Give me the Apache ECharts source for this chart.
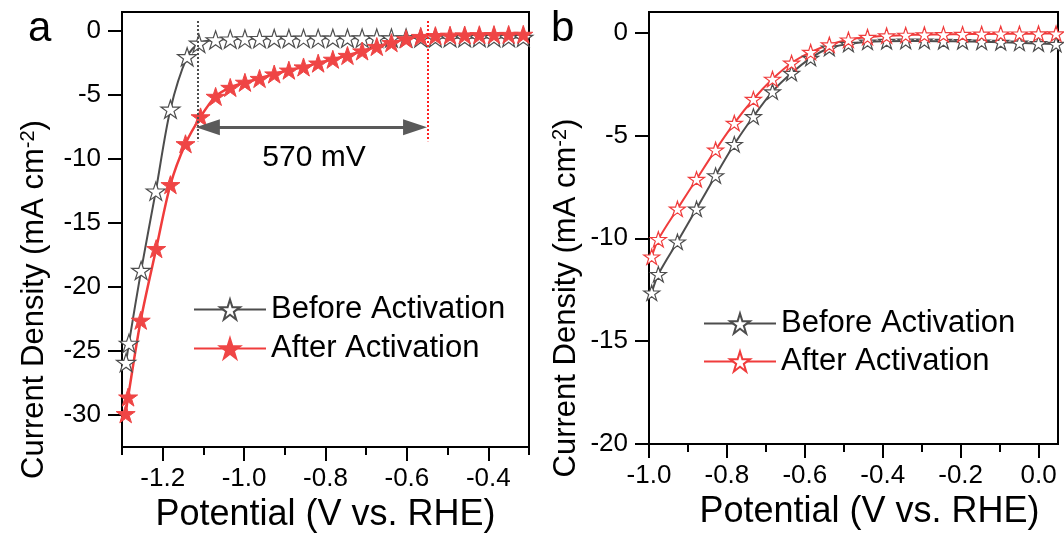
<!DOCTYPE html>
<html><head><meta charset="utf-8">
<script src="https://cdn.jsdelivr.net/npm/echarts@6/dist/echarts.min.js"></script>
<style>html,body{margin:0;padding:0;background:#fff}#c{width:1064px;height:533px}</style>
</head><body><div id="c"></div>
<script>
// ---------- Panel a data ----------
const aBeforeX = [-1.290, -1.283, -1.253, -1.217, -1.181, -1.140, -1.111, -1.070, -1.034, -0.998, -0.962, -0.926, -0.890, -0.854, -0.818, -0.782, -0.746, -0.710, -0.674, -0.638, -0.602, -0.566, -0.530, -0.494, -0.458, -0.422, -0.386, -0.350, -0.314];
const aBeforeY = [-25.9, -24.4, -18.7, -12.5, -6.1, -2.0, -0.95, -0.68, -0.62, -0.60, -0.58, -0.57, -0.57, -0.56, -0.56, -0.55, -0.55, -0.54, -0.54, -0.53, -0.53, -0.52, -0.52, -0.51, -0.51, -0.50, -0.50, -0.50, -0.49];
const aAfterX = [-1.291, -1.285, -1.254, -1.216, -1.181, -1.144, -1.107, -1.070, -1.034, -0.998, -0.962, -0.926, -0.890, -0.854, -0.818, -0.782, -0.746, -0.710, -0.674, -0.638, -0.602, -0.566, -0.530, -0.494, -0.458, -0.422, -0.386, -0.350, -0.314];
const aAfterY = [-29.9, -28.6, -22.6, -17.0, -12.0, -8.8, -6.7, -5.1, -4.4, -4.0, -3.7, -3.35, -3.05, -2.8, -2.5, -2.2, -1.9, -1.55, -1.2, -0.9, -0.6, -0.42, -0.35, -0.32, -0.30, -0.28, -0.27, -0.26, -0.25];
// annotation: potentials of the two guide lines (570 mV apart)
const guideX = [-1.113, -0.548];
const guideYRange = [0.8, -8.6];
const arrowY = -7.5;
const arrowEnds = [-1.089, -0.580];

// ---------- Panel b data ----------
const bX = [-0.993, -0.976, -0.927, -0.878, -0.829, -0.781, -0.732, -0.683, -0.634, -0.585, -0.537, -0.488, -0.439, -0.390, -0.341, -0.293, -0.244, -0.195, -0.146, -0.097, -0.049, 0.000, 0.045];
const bBeforeY = [-12.65, -11.75, -10.17, -8.57, -6.95, -5.43, -4.08, -2.87, -1.97, -1.24, -0.75, -0.56, -0.45, -0.42, -0.41, -0.41, -0.42, -0.43, -0.45, -0.47, -0.50, -0.53, -0.56];
const bAfterY = [-10.9, -10.05, -8.57, -7.13, -5.70, -4.40, -3.24, -2.26, -1.48, -0.95, -0.59, -0.35, -0.22, -0.15, -0.12, -0.10, -0.09, -0.08, -0.07, -0.06, -0.06, -0.05, -0.05];

// ---------- ticks ----------
const aXMajor = [-1.2, -1.0, -0.8, -0.6, -0.4];
const aXMinor = [-1.3, -1.1, -0.9, -0.7, -0.5, -0.3];
const aYTicks = [0, -5, -10, -15, -20, -25, -30];
const bXMajor = [-1.0, -0.8, -0.6, -0.4, -0.2, 0.0];
const bXMinor = [-0.9, -0.7, -0.5, -0.3, -0.1];
const bYTicks = [0, -5, -10, -15, -20];

const legendNames = {aBefore: 'Before Activation', aAfter: 'After Activation', bBefore: 'Before Activation', bAfter: 'After Activation'};
const xTitle = 'Potential (V vs. RHE)';
const yTitle = '{t|Current Density (mA cm}{s|-2}{t|)}';

const FONT = 'Liberation Sans';
const GRAY = '#4d4d4d';
const RED = '#f03c3c';
const STAR = 'path://M50,0 L61.23,34.55 L97.55,34.55 L68.16,55.9 L79.39,90.45 L50,69.1 L20.61,90.45 L31.84,55.9 L2.45,34.55 L38.77,34.55 Z';
const zip = (xs, ys) => xs.map((x, i) => [x, ys[i]]);

const chart = echarts.init(document.getElementById('c'), null, {renderer: 'canvas'});

function majorX(grid, min, max, major, shift) {
  return {
    type: 'value', gridIndex: grid, min: min, max: max, position: 'bottom',
    axisLine: {show: true, onZero: false, lineStyle: {color: '#000', width: 2}},
    axisTick: {show: true, customValues: major, length: 14, lineStyle: {color: '#000', width: 2}},
    axisLabel: {show: true, customValues: major, formatter: v => v.toFixed(1), fontSize: 26, fontFamily: FONT, color: '#000', margin: 19},
    splitLine: {show: false},
    name: xTitle, nameLocation: 'middle', nameGap: 41,
    nameTextStyle: {fontSize: 36, fontFamily: FONT, color: '#000', padding: [0, 0, 0, shift]}
  };
}
function minorX(grid, min, max, minor) {
  return {
    type: 'value', gridIndex: grid, min: min, max: max, position: 'bottom',
    axisLine: {show: false, onZero: false},
    axisTick: {show: true, customValues: minor, length: 8, lineStyle: {color: '#000', width: 2}},
    axisLabel: {show: false},
    splitLine: {show: false}
  };
}
function yAx(grid, min, max, ticks, gap) {
  return {
    type: 'value', gridIndex: grid, min: min, max: max,
    axisLine: {show: true, onZero: false, lineStyle: {color: '#000', width: 2}},
    axisTick: {show: true, customValues: ticks, length: 14, lineStyle: {color: '#000', width: 2}},
    axisLabel: {show: true, customValues: ticks, fontSize: 26, fontFamily: FONT, color: '#000', margin: 21},
    splitLine: {show: false},
    name: yTitle, nameLocation: 'middle', nameGap: gap,
    nameTextStyle: {fontSize: 31, fontFamily: FONT, color: '#000', padding: [0, 140, 0, 0],
      rich: {t: {fontSize: 31, fontFamily: FONT, color: '#000', lineHeight: 33},
             s: {fontSize: 20, fontFamily: FONT, color: '#000', verticalAlign: 'top', lineHeight: 20}}}
  };
}

const option = {
  animation: false,
  backgroundColor: '#fff',
  textStyle: {fontFamily: FONT},
  grid: [
    {left: 122, top: 12, width: 407, height: 435, show: true, borderColor: '#000', borderWidth: 2, backgroundColor: 'transparent', outerBoundsMode: 'none'},
    {left: 649, top: 12, width: 409, height: 432, show: true, borderColor: '#000', borderWidth: 2, backgroundColor: 'transparent', outerBoundsMode: 'none'}
  ],
  xAxis: [
    majorX(0, -1.3, -0.3, aXMajor, 0),
    minorX(0, -1.3, -0.3, aXMinor),
    majorX(1, -1.0, 0.05, bXMajor, 32),
    minorX(1, -1.0, 0.05, bXMinor)
  ],
  yAxis: [
    yAx(0, -32.5, 1.5, aYTicks, 71),
    yAx(1, -20, 1, bYTicks, 66)
  ],
  legend: [
    {left: 193, top: 294, orient: 'vertical', padding: 0, itemWidth: 72, itemHeight: 25, itemGap: 8,
     data: ['aBefore', 'aAfter'], formatter: n => legendNames[n],
     textStyle: {fontSize: 31, fontFamily: FONT, color: '#000'}},
    {left: 703, top: 308, orient: 'vertical', padding: 0, itemWidth: 72, itemHeight: 25, itemGap: 7,
     data: ['bBefore', 'bAfter'], formatter: n => legendNames[n],
     textStyle: {fontSize: 31, fontFamily: FONT, color: '#000'}}
  ],
  graphic: [
    {type: 'text', left: 28, top: 8, style: {text: 'a', fontSize: 42, fontFamily: FONT, fill: '#000'}},
    {type: 'text', left: 551, top: 8, style: {text: 'b', fontSize: 42, fontFamily: FONT, fill: '#000'}},
    {type: 'text', x: 314, y: 158, style: {text: '570 mV', fontSize: 30, fontFamily: FONT, fill: '#000', align: 'center', verticalAlign: 'middle'}}
  ],
  series: [
    {name: 'aBefore', type: 'line', xAxisIndex: 0, yAxisIndex: 0, data: zip(aBeforeX, aBeforeY),
     smooth: 0.3, symbol: STAR, symbolSize: 19, symbolKeepAspect: true, showAllSymbol: true,
     lineStyle: {color: GRAY, width: 2}, itemStyle: {color: '#fff', borderColor: GRAY, borderWidth: 1.2},
     markLine: {silent: true, symbol: 'none', animation: false, label: {show: false},
       data: [
         [{coord: [guideX[0], guideYRange[0]], lineStyle: {type: 'dotted', color: GRAY, width: 2}},
          {coord: [guideX[0], guideYRange[1]]}],
         [{coord: [arrowEnds[0], arrowY], symbol: 'triangle', symbolSize: [16, 24], lineStyle: {type: 'solid', color: '#5a5a5a', width: 3}},
          {coord: [arrowEnds[1], arrowY], symbol: 'triangle', symbolSize: [16, 24]}]
       ]}
    },
    {name: 'aAfter', type: 'line', xAxisIndex: 0, yAxisIndex: 0, data: zip(aAfterX, aAfterY),
     smooth: 0.3, symbol: STAR, symbolSize: 19, symbolKeepAspect: true, showAllSymbol: true,
     lineStyle: {color: RED, width: 2.5}, itemStyle: {color: '#ef4545', borderColor: '#ef4545', borderWidth: 1},
     markLine: {silent: true, symbol: 'none', animation: false, label: {show: false},
       data: [
         [{coord: [guideX[1], guideYRange[0]], lineStyle: {type: 'dotted', color: '#ff2020', width: 2}},
          {coord: [guideX[1], guideYRange[1]]}]
       ]}
    },
    {name: 'bBefore', type: 'line', xAxisIndex: 2, yAxisIndex: 1, data: zip(bX, bBeforeY),
     smooth: 0.3, symbol: STAR, symbolSize: 16, symbolKeepAspect: true, showAllSymbol: true,
     lineStyle: {color: GRAY, width: 2}, itemStyle: {color: '#fff', borderColor: GRAY, borderWidth: 1.2}},
    {name: 'bAfter', type: 'line', xAxisIndex: 2, yAxisIndex: 1, data: zip(bX, bAfterY),
     smooth: 0.3, symbol: STAR, symbolSize: 16, symbolKeepAspect: true, showAllSymbol: true,
     lineStyle: {color: RED, width: 2}, itemStyle: {color: '#fff', borderColor: RED, borderWidth: 1.2}}
  ]
};
chart.setOption(option);
</script>
</body></html>
